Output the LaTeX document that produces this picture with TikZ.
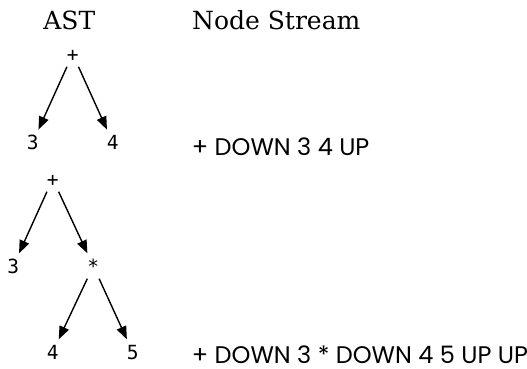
\documentclass[tikz,border=0pt]{standalone}
\usepackage{fontspec}
\setmainfont{DejaVu Serif}
\newfontfamily\treefont{DejaVu Sans Mono}
\newfontfamily\streamfont{Poppins}
\usetikzlibrary{arrows.meta}
\begin{document}
\begin{tikzpicture}[x=1pt,y=-1pt,
  tnode/.style={font={\fontsize{19.5}{22}\treefont}, inner sep=0pt,
    text height=19.5pt, text depth=5.5pt, minimum width=18pt, anchor=base},
  arr/.style={-{Triangle[length=13pt,width=10pt]}, line width=1.4pt},
  head/.style={font=\fontsize{25}{28}\selectfont, inner sep=0pt},
  stream/.style={font={\fontsize{24}{26}\streamfont}, inner sep=0pt,
    text depth=0pt, anchor=base west}]
\useasboundingbox (0,0) rectangle (527,368);
% headings
\node[head, anchor=base] (hast) at (69.3,29.3) {AST};
\node[head, anchor=base west] (hns) at (192,29.3) {Node Stream};
% tree 1
\node[tnode] (a) at (72.7,61) {+};
\node[tnode] (a3) at (32.7,149.3) {3};
\node[tnode] (a4) at (112.7,149.3) {4};
\draw[arr] (a) -- (a3);
\draw[arr] (a) -- (a4);
\node[stream] (s1) at (191.7,155) {+ DOWN 3 4 UP};
% tree 2
\node[tnode] (b) at (52.7,186) {+};
\node[tnode] (b3) at (13.3,273) {3};
\node[tnode] (bm) at (93.3,273) {*};
\node[tnode] (b4) at (52.7,359) {4};
\node[tnode] (b5) at (132.7,359) {5};
\draw[arr] (b) -- (b3);
\draw[arr] (b) -- (bm);
\draw[arr] (bm) -- (b4);
\draw[arr] (bm) -- (b5);
\node[stream] (s2) at (191.7,363.3) {+ DOWN 3 * DOWN 4 5 UP UP};
\end{tikzpicture}
\end{document}
